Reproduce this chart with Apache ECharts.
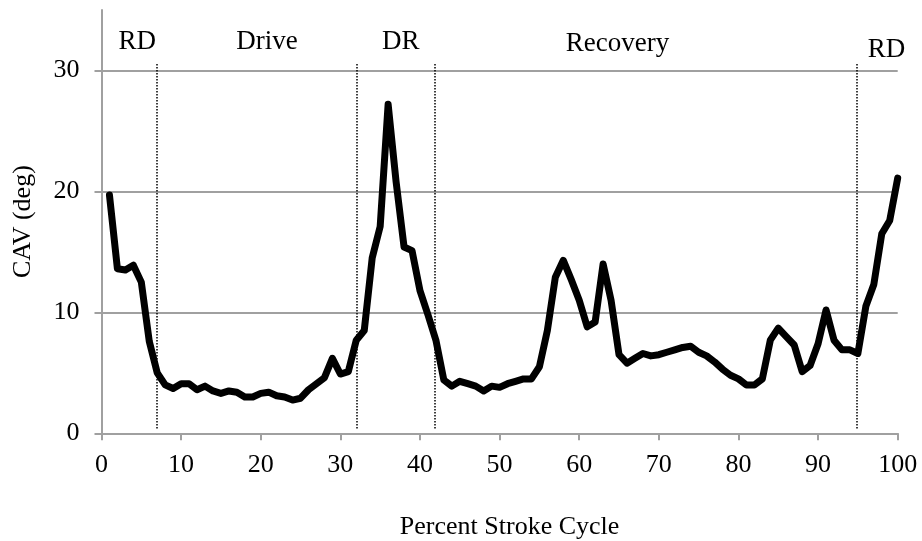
<!DOCTYPE html>
<html><head><meta charset="utf-8">
<script src="https://cdn.jsdelivr.net/npm/echarts@6/dist/echarts.min.js"></script>
<style>html,body{margin:0;padding:0;background:#fff}#c{width:922px;height:541px}</style>
</head><body><div id="c"></div>
<script>
// CAV (deg) at each percent of the stroke cycle (1..100)
const cav = [19.7,13.6,13.5,13.9,12.5,7.6,5.0,4.0,3.7,4.1,
  4.1,3.6,3.9,3.5,3.3,3.5,3.4,3.0,3.0,3.3,
  3.4,3.1,3.0,2.75,2.9,3.6,4.1,4.6,6.2,4.9,
  5.1,7.7,8.5,14.5,17.1,27.2,20.8,15.4,15.1,11.8,
  9.8,7.7,4.4,3.9,4.3,4.1,3.9,3.5,3.9,3.8,
  4.1,4.3,4.5,4.5,5.5,8.5,12.9,14.3,12.7,11.0,
  8.8,9.2,14.0,11.0,6.5,5.8,6.2,6.6,6.4,6.5,
  6.7,6.9,7.1,7.2,6.7,6.4,5.9,5.3,4.8,4.5,
  4.0,4.0,4.5,7.7,8.7,8.0,7.3,5.1,5.6,7.4,
  10.2,7.7,6.9,6.9,6.6,10.5,12.3,16.5,17.6,21.1];
const phaseBoundaries = [6.9, 32.1, 41.9, 94.8];
const phaseLabels = ['RD','Drive','DR','Recovery','RD'];
const phaseLabelX = [4.5, 20.8, 37.6, 64.8, 98.6];
const phaseLabelY = [32.4, 32.4, 32.4, 32.2, 31.7];
const yTicks = [0,10,20,30];

const font = '"Liberation Serif","Times New Roman",serif';
const chart = echarts.init(document.getElementById('c'));
chart.setOption({
  animation:false,
  backgroundColor:'#fff',
  grid:{left:101.5, right:24.3, top:10, bottom:107.7, containLabel:false, outerBoundsMode:'none'},
  xAxis:{type:'value', min:0, max:100, interval:10,
    name:'Percent Stroke Cycle', nameLocation:'middle', nameGap:81,
    nameTextStyle:{fontFamily:font, fontSize:26, color:'#000', padding:[0,0,0,20]},
    axisLine:{lineStyle:{color:'#a0a0a0', width:2}},
    axisTick:{show:true, length:7, lineStyle:{color:'#a0a0a0', width:2}},
    axisLabel:{fontFamily:font, fontSize:26, color:'#000', margin:19},
    splitLine:{show:false}},
  yAxis:{type:'value', min:0, max:35, interval:10,
    name:'CAV (deg)', nameLocation:'middle', nameGap:65, nameRotate:90,
    nameTextStyle:{fontFamily:font, fontSize:26, color:'#000'},
    axisLine:{show:true, lineStyle:{color:'#a0a0a0', width:2}},
    axisTick:{show:true, length:7, customValues:yTicks, lineStyle:{color:'#a0a0a0', width:2}},
    axisLabel:{fontFamily:font, fontSize:26, color:'#000', margin:22, customValues:yTicks},
    splitLine:{show:true, lineStyle:{color:'#a0a0a0', width:2}}},
  series:[{
    type:'line', data:cav.map((v,i)=>[i+1,v]), showSymbol:false, symbol:'none',
    lineStyle:{color:'#000', width:7, join:'round', cap:'round'},
    markLine:{silent:true, symbol:['none','none'], label:{show:false},
      lineStyle:{color:'#000', width:1.5, type:'dotted'},
      data: phaseBoundaries.map(x=>[{coord:[x,0.4]},{coord:[x,30.6]}])},
    markPoint:{silent:true, symbol:'circle', symbolSize:0,
      label:{show:true, position:'inside', fontFamily:font, fontSize:27, color:'#000', formatter:p=>p.name},
      data: phaseLabels.map((n,i)=>({name:n, coord:[phaseLabelX[i], phaseLabelY[i]]}))}
  }]
});
</script></body></html>
